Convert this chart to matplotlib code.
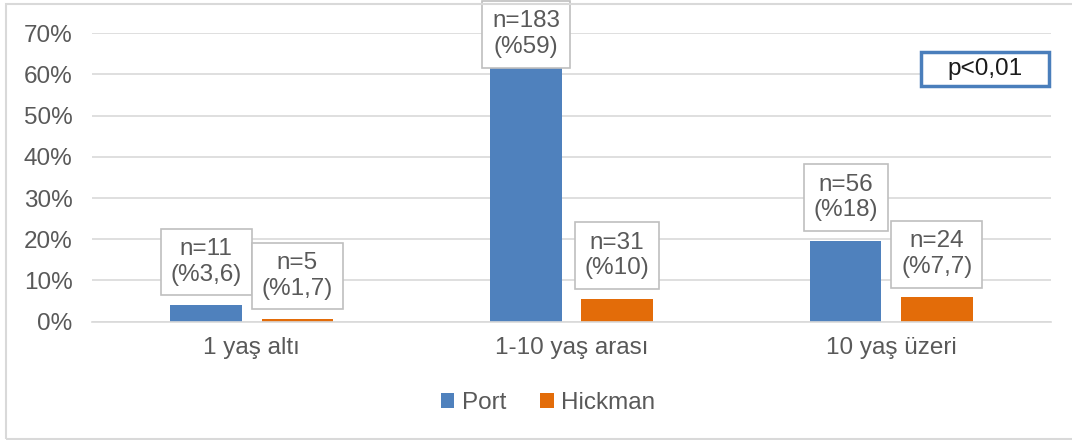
import matplotlib.pyplot as plt
from matplotlib.patches import Rectangle
from matplotlib.ticker import FuncFormatter
import numpy as np

plt.rcParams['font.family'] = ['Liberation Sans', 'DejaVu Sans']

categories = ['1 yaş altı', '1-10 yaş arası', '10 yaş üzeri']
port_values = [4.0, 61.5, 19.7]
hickman_values = [0.6, 5.5, 5.9]
port_labels = ['n=11\n(%3,6)', 'n=183\n(%59)', 'n=56\n(%18)']
hickman_labels = ['n=5\n(%1,7)', 'n=31\n(%10)', 'n=24\n(%7,7)']
p_text = 'p<0,01'

port_color = '#4F81BD'
hickman_color = '#E36C09'
text_color = '#595959'
grid_color = '#D9D9D9'
fs = 17.5

fig = plt.figure(figsize=(10.72, 4.4), dpi=100)
ax = fig.add_axes([92 / 1072, 1 - 321.7 / 440, (1051 - 92) / 1072, (321.7 - 33.3) / 440])

x = np.arange(len(categories))
width = 0.224
offset = 0.1425
ax.bar(x - offset, port_values, width, color=port_color, label='Port', zorder=2)
ax.bar(x + offset, hickman_values, width, color=hickman_color, label='Hickman', zorder=2)

ax.set_xlim(-0.5, 2.5)
ax.set_ylim(0, 70)
ax.set_yticks(range(0, 71, 10))
ax.yaxis.set_major_formatter(FuncFormatter(lambda v, _: f'{v:.0f}%'))
ax.set_xticks(x)
ax.set_xticklabels(categories)
ax.tick_params(axis='both', length=0, labelsize=fs, colors=text_color)
ax.tick_params(axis='x', pad=11)
ax.tick_params(axis='y', pad=14)
ax.grid(axis='y', color=grid_color, linewidth=1.2, zorder=0)
for side in ['top', 'right', 'left']:
    ax.spines[side].set_visible(False)
ax.spines['bottom'].set_color(grid_color)
ax.spines['bottom'].set_linewidth(1.2)

box_style = dict(boxstyle='square,pad=0.4', facecolor='white', edgecolor='#BFBFBF', linewidth=1.2)
for i in range(len(categories)):
    for xpos, val, lab in [(x[i] - offset, port_values[i], port_labels[i]),
                           (x[i] + offset, hickman_values[i], hickman_labels[i])]:
        ly = min(val + 10.5, 69.8)
        ax.text(xpos, ly, lab, ha='center', va='center', fontsize=fs, color=text_color,
                bbox=box_style, zorder=4, clip_on=False, linespacing=1.2)

# p value box
ax.add_patch(Rectangle(((920.7 - 92) / 959, (321.7 - 86) / 288.4), 128 / 959, 34 / 288.4,
                       transform=ax.transAxes, facecolor='white', edgecolor='#4A7EBB',
                       linewidth=2.5, zorder=4, clip_on=False))
ax.text((985 - 92) / 959, (321.7 - 69) / 288.4, p_text, transform=ax.transAxes,
        ha='center', va='center', fontsize=fs, color='#1A1A1A', zorder=5)

fig.legend(loc='center', bbox_to_anchor=(548 / 1072, 1 - 403 / 440), ncol=2, frameon=False,
           fontsize=fs, labelcolor=text_color, handlelength=0.55, handleheight=0.55,
           handletextpad=0.3, columnspacing=1.4)

fig.add_artist(Rectangle((6 / 1072, 1.5 / 440), 1.1, 434 / 440, transform=fig.transFigure,
                         facecolor='none', edgecolor='#D9D9D9', linewidth=1.5))

fig.savefig('out.png', dpi=100)
